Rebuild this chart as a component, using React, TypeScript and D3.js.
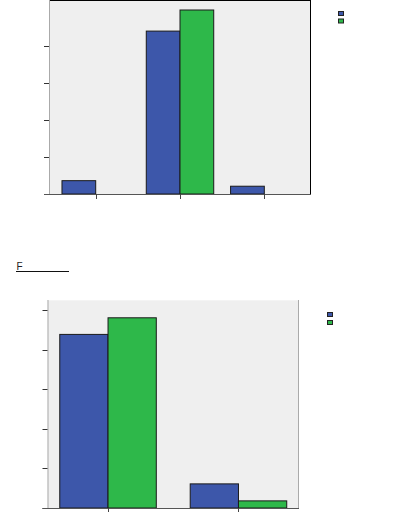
import React from "react";
import * as d3 from "d3";

const categoriesTop = ["A", "B", "C"];
const seriesNames = ["S1", "S2"];
const topBlue = [3.6, 44, 2.1];
const topGreen = [0, 49.7, 0];
const topTicks = [0, 10, 20, 30, 40];

const categoriesBottom = ["A", "B"];
const bottomBlue = [43.9, 6.1];
const bottomGreen = [48.1, 1.8];
const bottomTicks = [0, 10, 20, 30, 40, 50];

const titleText = "F";

const BLUE = "#3d57aa";
const GREEN = "#2eb84a";
const BG = "#efefef";

type PanelProps = {
  cats: string[];
  blue: number[];
  green: number[];
  ticks: number[];
  x0: number;
  x1: number;
  y0: number;
  y1: number;
  yMax: number;
  padInner: number;
  padOuter: number;
  legendX: number;
  legendY: number;
  legendGap: number;
  topBorder: string;
  rightBorder: string;
};

function Panel(p: PanelProps) {
  const x = d3.scaleBand<string>().domain(p.cats).range([p.x0, p.x1]).paddingInner(p.padInner).paddingOuter(p.padOuter);
  const xs = d3.scaleBand<string>().domain(seriesNames).range([0, x.bandwidth()]);
  const y = d3.scaleLinear().domain([0, p.yMax]).range([p.y1, p.y0]);
  const data = [p.blue, p.green];
  const colors = [BLUE, GREEN];
  return (
    <g>
      <rect x={p.x0} y={p.y0} width={p.x1 - p.x0} height={p.y1 - p.y0} fill={BG} />
      <line x1={p.x0} x2={p.x1} y1={p.y0 + 0.5} y2={p.y0 + 0.5} stroke={p.topBorder} strokeWidth={1} />
      <line x1={p.x1 - 0.5} x2={p.x1 - 0.5} y1={p.y0} y2={p.y1} stroke={p.rightBorder} strokeWidth={1} />
      <line x1={p.x0 + 0.5} x2={p.x0 + 0.5} y1={p.y0} y2={p.y1} stroke="#aaaaaa" strokeWidth={1} />
      {p.ticks.map((t) => (
        <line key={t} x1={p.x0 - 5} x2={p.x0} y1={Math.round(y(t)) + 0.5} y2={Math.round(y(t)) + 0.5} stroke="#333" strokeWidth={1} />
      ))}
      {p.cats.map((c, i) =>
        data.map((d, s) =>
          d[i] > 0 ? (
            <rect
              key={c + s}
              x={(x(c) as number) + (xs(seriesNames[s]) as number)}
              y={y(d[i])}
              width={xs.bandwidth()}
              height={p.y1 - y(d[i])}
              fill={colors[s]}
              stroke="#1a1a1a"
              strokeWidth={1}
            />
          ) : null
        )
      )}
      <line x1={p.x0 - 5} x2={p.x1} y1={p.y1 + 0.5} y2={p.y1 + 0.5} stroke="#555" strokeWidth={1} />
      {p.cats.map((c) => {
        const cx = Math.round((x(c) as number) + x.bandwidth() / 2) + 0.5;
        return <line key={"t" + c} x1={cx} x2={cx} y1={p.y1} y2={p.y1 + 5} stroke="#444" strokeWidth={1} />;
      })}
      {colors.map((col, s) => (
        <rect key={"l" + s} x={p.legendX} y={p.legendY + s * p.legendGap} width={5} height={4} fill={col} stroke="#222" strokeWidth={1} />
      ))}
    </g>
  );
}

export default function App() {
  return (
    <svg width={402} height={512} style={{ position: "absolute", left: 0, top: 0, background: "#fff" }} fontFamily="Liberation Sans, Arial, sans-serif">
      <Panel
        cats={categoriesTop}
        blue={topBlue}
        green={topGreen}
        ticks={topTicks}
        x0={49}
        x1={311}
        y0={0}
        y1={194}
        yMax={52.4}
        padInner={0.2}
        padOuter={0.154}
        legendX={338.5}
        legendY={11.5}
        legendGap={7.5}
        topBorder="#000"
        rightBorder="#000"
      />
      <text x={16.5} y={269.5} fontSize={10} fill="#222">{titleText}</text>
      <line x1={16} x2={69} y1={271.5} y2={271.5} stroke="#111" strokeWidth={1} />
      <Panel
        cats={categoriesBottom}
        blue={bottomBlue}
        green={bottomGreen}
        ticks={bottomTicks}
        x0={47.5}
        x1={299}
        y0={300}
        y1={508}
        yMax={52.6}
        padInner={0.26}
        padOuter={0.094}
        legendX={327.5}
        legendY={312.5}
        legendGap={8}
        topBorder="#f4f4f4"
        rightBorder="#aaaaaa"
      />
    </svg>
  );
}
